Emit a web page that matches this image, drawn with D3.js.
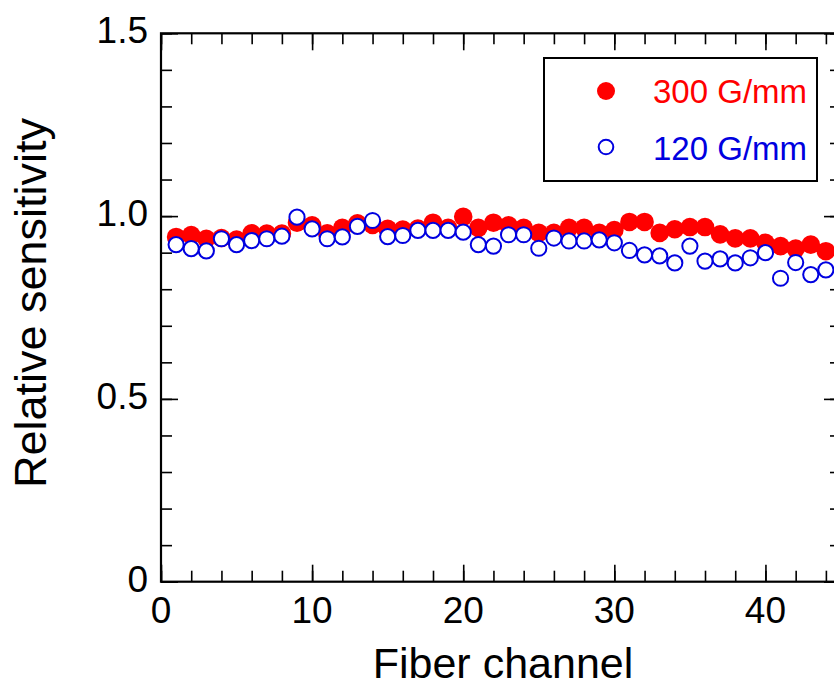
<!DOCTYPE html>
<html><head><meta charset="utf-8">
<script src="https://cdn.jsdelivr.net/npm/d3@7"></script>
<style>
html,body{margin:0;padding:0;background:#fff;overflow:hidden;}
svg text{font-family:"Liberation Sans",Arial,Helvetica,sans-serif;}
</style></head>
<body>
<svg id="chart" width="834" height="687"></svg>
<script>
const channels = [1,2,3,4,5,6,7,8,9,10,11,12,13,14,15,16,17,18,19,20,21,22,23,24,25,26,27,28,29,30,31,32,33,34,35,36,37,38,39,40,41,42,43,44];
const sens300 = [0.943,0.948,0.938,0.940,0.936,0.953,0.952,0.952,0.982,0.975,
                 0.953,0.968,0.980,0.976,0.965,0.963,0.966,0.982,0.968,0.998,
                 0.968,0.982,0.975,0.968,0.954,0.954,0.968,0.968,0.954,0.962,
                 0.984,0.984,0.954,0.964,0.970,0.970,0.950,0.939,0.939,0.927,
                 0.918,0.911,0.922,0.904];
const sens120 = [0.922,0.911,0.905,0.938,0.922,0.933,0.938,0.945,0.997,0.965,
                 0.938,0.943,0.972,0.988,0.944,0.947,0.961,0.961,0.961,0.956,
                 0.922,0.918,0.949,0.949,0.912,0.940,0.932,0.932,0.935,0.927,
                 0.906,0.894,0.891,0.872,0.918,0.877,0.883,0.872,0.886,0.900,
                 0.830,0.873,0.840,0.853];
const xMajorTicks = [0,10,20,30,40];
const xMinorTicks = [0,2,4,6,8,10,12,14,16,18,20,22,24,26,28,30,32,34,36,38,40,42,44];
const yMajorTicks = [0,0.5,1.0,1.5];
const yMajorLabels = ["0","0.5","1.0","1.5"];
const yMinorTicks = [0,0.1,0.2,0.3,0.4,0.5,0.6,0.7,0.8,0.9,1.0,1.1,1.2,1.3,1.4,1.5];
const seriesNames = ["300 G/mm","120 G/mm"];
const xTitle = "Fiber channel", yTitle = "Relative sensitivity";

const RED = "#ff0000", BLUE = "#0000e0";
const L = 161, R = 841, T = 33.3, B = 581.7;
const svg = d3.select("#chart");
const x = d3.scaleLinear().domain([0,45]).range([L,R]);
const y = d3.scaleLinear().domain([0,1.5]).range([B,T]);

const styleAxis = g => { g.select(".domain").remove(); g.selectAll(".tick line").attr("stroke","#000").attr("stroke-width",1.6); };

// minor ticks
svg.append("g").attr("transform",`translate(0,${B})`).call(d3.axisBottom(x).tickValues(xMinorTicks).tickSize(-11).tickFormat("")).call(styleAxis);
svg.append("g").attr("transform",`translate(0,${T})`).call(d3.axisTop(x).tickValues(xMinorTicks).tickSize(-11).tickFormat("")).call(styleAxis);
svg.append("g").attr("transform",`translate(${L},0)`).call(d3.axisLeft(y).tickValues(yMinorTicks).tickSize(-11).tickFormat("")).call(styleAxis);
svg.append("g").attr("transform",`translate(${R},0)`).call(d3.axisRight(y).tickValues(yMinorTicks).tickSize(-11).tickFormat("")).call(styleAxis);
// major ticks
svg.append("g").attr("transform",`translate(0,${B})`).call(d3.axisBottom(x).tickValues(xMajorTicks).tickSize(-17).tickFormat("")).call(styleAxis);
svg.append("g").attr("transform",`translate(0,${T})`).call(d3.axisTop(x).tickValues(xMajorTicks).tickSize(-17).tickFormat("")).call(styleAxis);
svg.append("g").attr("transform",`translate(${L},0)`).call(d3.axisLeft(y).tickValues(yMajorTicks).tickSize(-17).tickFormat("")).call(styleAxis);
svg.append("g").attr("transform",`translate(${R},0)`).call(d3.axisRight(y).tickValues(yMajorTicks).tickSize(-17).tickFormat("")).call(styleAxis);

// frame
svg.append("rect").attr("x",L).attr("y",T).attr("width",R-L).attr("height",B-T)
  .attr("fill","none").attr("stroke","#000").attr("stroke-width",2.2);

// tick labels
svg.append("g").selectAll("text").data(xMajorTicks).join("text")
  .attr("x",d=>x(d)).attr("y",623).attr("text-anchor","middle")
  .attr("font-size",37).attr("fill","#000").text(d=>d);
svg.append("g").selectAll("text").data(yMajorTicks).join("text")
  .attr("x",148).attr("y",d=>y(d)+10).attr("text-anchor","end")
  .attr("font-size",37).attr("fill","#000").text((d,i)=>yMajorLabels[i]);

// titles
svg.append("text").attr("x",(L+R)/2+2).attr("y",678).attr("text-anchor","middle")
  .attr("font-size",43).attr("fill","#000").text(xTitle);
svg.append("text").attr("transform","translate(46,303) rotate(-90)").attr("text-anchor","middle")
  .attr("font-size",45).attr("fill","#000").text(yTitle);

// data
svg.append("g").selectAll("circle").data(channels).join("circle")
  .attr("cx",d=>x(d)).attr("cy",(d,i)=>y(sens300[i])).attr("r",9.3).attr("fill",RED);
svg.append("g").selectAll("circle").data(channels).join("circle")
  .attr("cx",d=>x(d)).attr("cy",(d,i)=>y(sens120[i])).attr("r",7.6)
  .attr("fill","#fff").attr("stroke",BLUE).attr("stroke-width",2);

// legend
const lg = svg.append("g");
lg.append("rect").attr("x",544).attr("y",58).attr("width",273).attr("height",123)
  .attr("fill","#fff").attr("stroke","#000").attr("stroke-width",2);
lg.append("circle").attr("cx",606).attr("cy",91).attr("r",9).attr("fill",RED);
lg.append("circle").attr("cx",606).attr("cy",147).attr("r",7.3).attr("fill","#fff").attr("stroke",BLUE).attr("stroke-width",2);
lg.append("text").attr("x",653).attr("y",103).attr("font-size",33).attr("fill",RED).text(seriesNames[0]);
lg.append("text").attr("x",653).attr("y",160).attr("font-size",33).attr("fill",BLUE).text(seriesNames[1]);
</script>
</body></html>
